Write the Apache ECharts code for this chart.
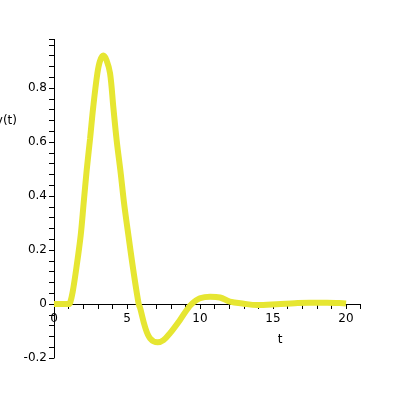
<!DOCTYPE html>
<html>
<head>
<meta charset="utf-8">
<script src="https://cdn.jsdelivr.net/npm/echarts@6/dist/echarts.min.js"></script>
<style>html,body{margin:0;padding:0;background:#fff}#c{width:400px;height:400px}</style>
</head>
<body>
<div id="c"></div>
<script>
var tValues = [0, 0.5, 1.0, 1.1, 1.28, 1.55, 1.83, 2.03, 2.24, 2.47, 2.69, 2.97, 3.15, 3.38, 3.6, 3.84, 4.06, 4.29, 4.57, 4.8, 5.11, 5.43, 5.8, 5.9, 6.23, 6.58, 7.1, 7.5, 7.95, 8.63, 9.09, 9.43, 10.0, 10.7, 11.37, 12.05, 13.0, 13.9, 15.25, 16.5, 17.5, 18.7, 19.8, 20.0];
var yValues = [0, 0, 0, 0.004, 0.045, 0.14, 0.255, 0.373, 0.496, 0.612, 0.731, 0.854, 0.90, 0.92, 0.903, 0.854, 0.731, 0.607, 0.484, 0.373, 0.249, 0.126, 0.0, -0.015, -0.084, -0.127, -0.142, -0.134, -0.108, -0.059, -0.022, 0.0, 0.021, 0.027, 0.024, 0.009, 0.001, -0.004, -0.001, 0.003, 0.005, 0.005, 0.003, 0.002];
var xTickLabels = ['0', '5', '10', '15', '20'];
var yTickLabels = ['-0.2', '0', '0.2', '0.4', '0.6', '0.8'];

var chart = echarts.init(document.getElementById('c'), null, {renderer: 'canvas'});
var data = tValues.map(function (t, i) { return [t, yValues[i]]; });
var font = 'DejaVu Sans';
chart.setOption({
  animation: false,
  backgroundColor: '#ffffff',
  grid: {left: 54, right: 39.4, top: 39.4, bottom: 42},
  xAxis: {
    type: 'value', min: 0, max: 21, interval: 5,
    position: 'bottom', offset: -54,
    axisLine: {show: true, onZero: false, lineStyle: {color: '#000', width: 1}},
    axisTick: {show: true, length: 5, lineStyle: {color: '#000'}},
    minorTick: {show: true, splitNumber: 5, length: 5, lineStyle: {color: '#000'}},
    splitLine: {show: false},
    axisLabel: {color: '#000', fontFamily: font, fontSize: 12, margin: 9, showMaxLabel: false,
      formatter: function (v) { var i = xTickLabels.indexOf(String(v)); return i >= 0 ? xTickLabels[i] : ''; }}
  },
  yAxis: {
    type: 'value', min: -0.2, max: 0.98, interval: 0.2,
    axisLine: {show: true, onZero: false, lineStyle: {color: '#000', width: 1}},
    axisTick: {show: true, length: 5, lineStyle: {color: '#000'}},
    minorTick: {show: true, splitNumber: 5, length: 5, lineStyle: {color: '#000'}},
    splitLine: {show: false},
    axisLabel: {color: '#000', fontFamily: font, fontSize: 12, margin: 7, showMaxLabel: false,
      formatter: function (v) {
        var s = Math.abs(v) < 1e-9 ? '0' : (Math.round(v * 10) / 10).toFixed(1);
        return yTickLabels.indexOf(s) >= 0 ? s : '';
      }}
  },
  graphic: [
    {type: 'text', x: 17, y: 121, style: {text: 'y(t)', fill: '#000', font: '12px "DejaVu Sans"', textAlign: 'right', textVerticalAlign: 'middle'}},
    {type: 'text', x: 280, y: 340, style: {text: 't', fill: '#000', font: '12px "DejaVu Sans"', textAlign: 'center', textVerticalAlign: 'middle'}}
  ],
  series: [{
    type: 'line', data: data, showSymbol: false, smooth: 0.35,
    lineStyle: {color: '#e6e632', width: 6}, clip: false
  }]
});
</script>
</body>
</html>
